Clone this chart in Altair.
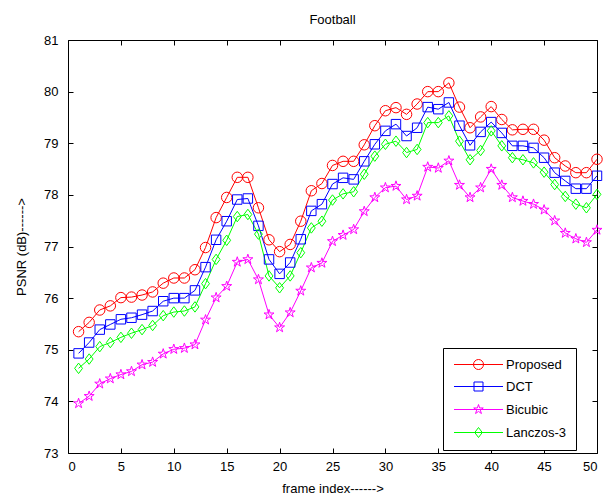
import altair as alt
import pandas as pd

frames = list(range(1, 51))
series_names = ["Proposed", "DCT", "Bicubic", "Lanczos-3"]
proposed = [75.35, 75.53, 75.77, 75.85, 76.01, 76.02, 76.06, 76.12, 76.29, 76.39,
            76.39, 76.55, 76.98, 77.56, 77.95, 78.34, 78.34, 77.75, 77.13, 76.90,
            77.04, 77.49, 78.08, 78.22, 78.57, 78.65, 78.65, 78.97, 79.34, 79.63,
            79.69, 79.56, 79.76, 80.00, 80.00, 80.17, 79.70, 79.30, 79.51, 79.71,
            79.46, 79.26, 79.27, 79.27, 79.06, 78.72, 78.56, 78.43, 78.43, 78.69]
dct = [74.93, 75.14, 75.39, 75.49, 75.59, 75.62, 75.68, 75.75, 75.94, 76.00,
       76.00, 76.15, 76.60, 77.13, 77.49, 77.91, 77.93, 77.40, 76.75, 76.47,
       76.69, 77.14, 77.69, 77.82, 78.21, 78.33, 78.30, 78.65, 78.98, 79.24,
       79.37, 79.14, 79.30, 79.70, 79.66, 79.79, 79.34, 78.96, 79.22, 79.41,
       79.20, 78.95, 78.95, 78.91, 78.72, 78.43, 78.27, 78.12, 78.12, 78.37]
bicubic = [73.96, 74.10, 74.34, 74.44, 74.52, 74.58, 74.71, 74.76, 74.92, 75.01,
           75.03, 75.10, 75.58, 76.01, 76.23, 76.70, 76.75, 76.36, 75.68, 75.43,
           75.72, 76.14, 76.59, 76.68, 77.10, 77.22, 77.33, 77.68, 77.95, 78.14,
           78.17, 77.91, 77.98, 78.54, 78.52, 78.66, 78.19, 77.95, 78.14, 78.50,
           78.19, 77.95, 77.88, 77.82, 77.71, 77.50, 77.26, 77.15, 77.08, 77.32]
lanczos = [74.64, 74.82, 75.06, 75.14, 75.24, 75.32, 75.39, 75.47, 75.66, 75.73,
           75.75, 75.83, 76.28, 76.75, 77.12, 77.58, 77.62, 77.24, 76.43, 76.20,
           76.43, 76.88, 77.36, 77.49, 77.90, 78.02, 78.06, 78.40, 78.75, 78.98,
           79.04, 78.82, 78.88, 79.40, 79.40, 79.53, 79.04, 78.68, 78.86, 79.24,
           78.95, 78.72, 78.68, 78.62, 78.44, 78.20, 77.97, 77.82, 77.75, 78.01]
x_ticks = list(range(0, 51, 5))
y_ticks = list(range(73, 82))

colors = ["#ff0000", "#0000ff", "#ff00ff", "#00ff00"]
marker_paths = [
    "M-1,0A1,1 0 1,1 1,0A1,1 0 1,1 -1,0Z",
    "M-0.9,-0.9L0.9,-0.9L0.9,0.9L-0.9,0.9Z",
    "M0,-1L0.225,-0.309L0.951,-0.309L0.363,0.118L0.588,0.809L0,0.382L-0.588,0.809L-0.363,0.118L-0.951,-0.309L-0.225,-0.309Z",
    "M0,-1L0.75,0L0,1L-0.75,0Z",
]
legend_paths = ["M-4.9,0L4.9,0" + p for p in marker_paths]

rows = []
for name, vals in zip(series_names, [proposed, dct, bicubic, lanczos]):
    for f, v in zip(frames, vals):
        rows.append({"frame": f, "psnr": v, "method": name})
df = pd.DataFrame(rows)

FONT = "Liberation Sans"
xscale = alt.Scale(domain=[0, 50], nice=False, zero=False)
yscale = alt.Scale(domain=[73, 81], nice=False, zero=False)

common_axis = dict(tickSize=5, offset=-5, domain=False, grid=False,
                   tickColor="black", labelColor="black", labelFont=FONT,
                   labelFontSize=13, titleFont=FONT, titleFontSize=13,
                   titleFontWeight="normal", titleColor="black")

x_bottom = alt.Axis(values=x_ticks, orient="bottom", labelPadding=7,
                    title="frame index------>", titlePadding=9, **common_axis)
y_left = alt.Axis(values=y_ticks, orient="left", labelPadding=10,
                  title="PSNR (dB)------>", titlePadding=15, **common_axis)
x_top = alt.Axis(values=x_ticks, orient="top", labels=False, title=None, **common_axis)
y_right = alt.Axis(values=y_ticks, orient="right", labels=False, title=None, **common_axis)

color_scale = alt.Scale(domain=series_names, range=colors)
shape_scale = alt.Scale(domain=series_names, range=marker_paths)
legend_shape_scale = alt.Scale(domain=series_names, range=legend_paths)

base = alt.Chart(df)

lines = base.mark_line(strokeWidth=1).encode(
    x=alt.X("frame:Q", scale=xscale, axis=x_bottom),
    y=alt.Y("psnr:Q", scale=yscale, axis=y_left),
    color=alt.Color("method:N", scale=color_scale, legend=None),
    detail="method:N",
)

points = base.mark_point(filled=False, strokeWidth=1, size=110, opacity=1).encode(
    x=alt.X("frame:Q", scale=xscale, axis=x_top),
    y=alt.Y("psnr:Q", scale=yscale, axis=y_right),
    color=alt.Color("method:N", scale=color_scale, legend=None),
    shape=alt.Shape("method:N", scale=shape_scale, legend=None),
)

leg = alt.Legend(title=None, orient="none", legendX=375, legendY=308)
legend_layer = base.transform_filter("datum.frame < 0").mark_point(
    filled=False, strokeWidth=1, size=100, opacity=1
).encode(
    x=alt.X("frame:Q", scale=xscale, axis=None),
    y=alt.Y("psnr:Q", scale=yscale, axis=None),
    color=alt.Color("method:N", scale=color_scale, legend=leg),
    shape=alt.Shape("method:N", scale=legend_shape_scale, legend=leg),
)

chart = alt.layer(lines, points, legend_layer).resolve_scale(
    color="independent", shape="independent"
).resolve_axis(
    x="independent", y="independent"
).properties(
    width=529, height=413,
    autosize=alt.AutoSizeParams(type="none"),
    padding={"left": 68, "top": 40, "right": 8, "bottom": 47},
    title=alt.TitleParams("Football", font=FONT, fontSize=13, fontWeight="normal",
                          color="black", offset=7, anchor="middle"),
    background="white",
).configure_view(
    stroke="black", strokeWidth=1
).configure_legend(
    strokeColor="black", fillColor="white", padding=10, cornerRadius=0,
    labelFont=FONT, labelFontSize=13, labelColor="black",
    symbolSize=100, symbolStrokeWidth=1, rowPadding=8,
    symbolOffset=19, labelOffset=21,
)

chart.save("out.html", embed_options={"renderer": "svg", "actions": False})
